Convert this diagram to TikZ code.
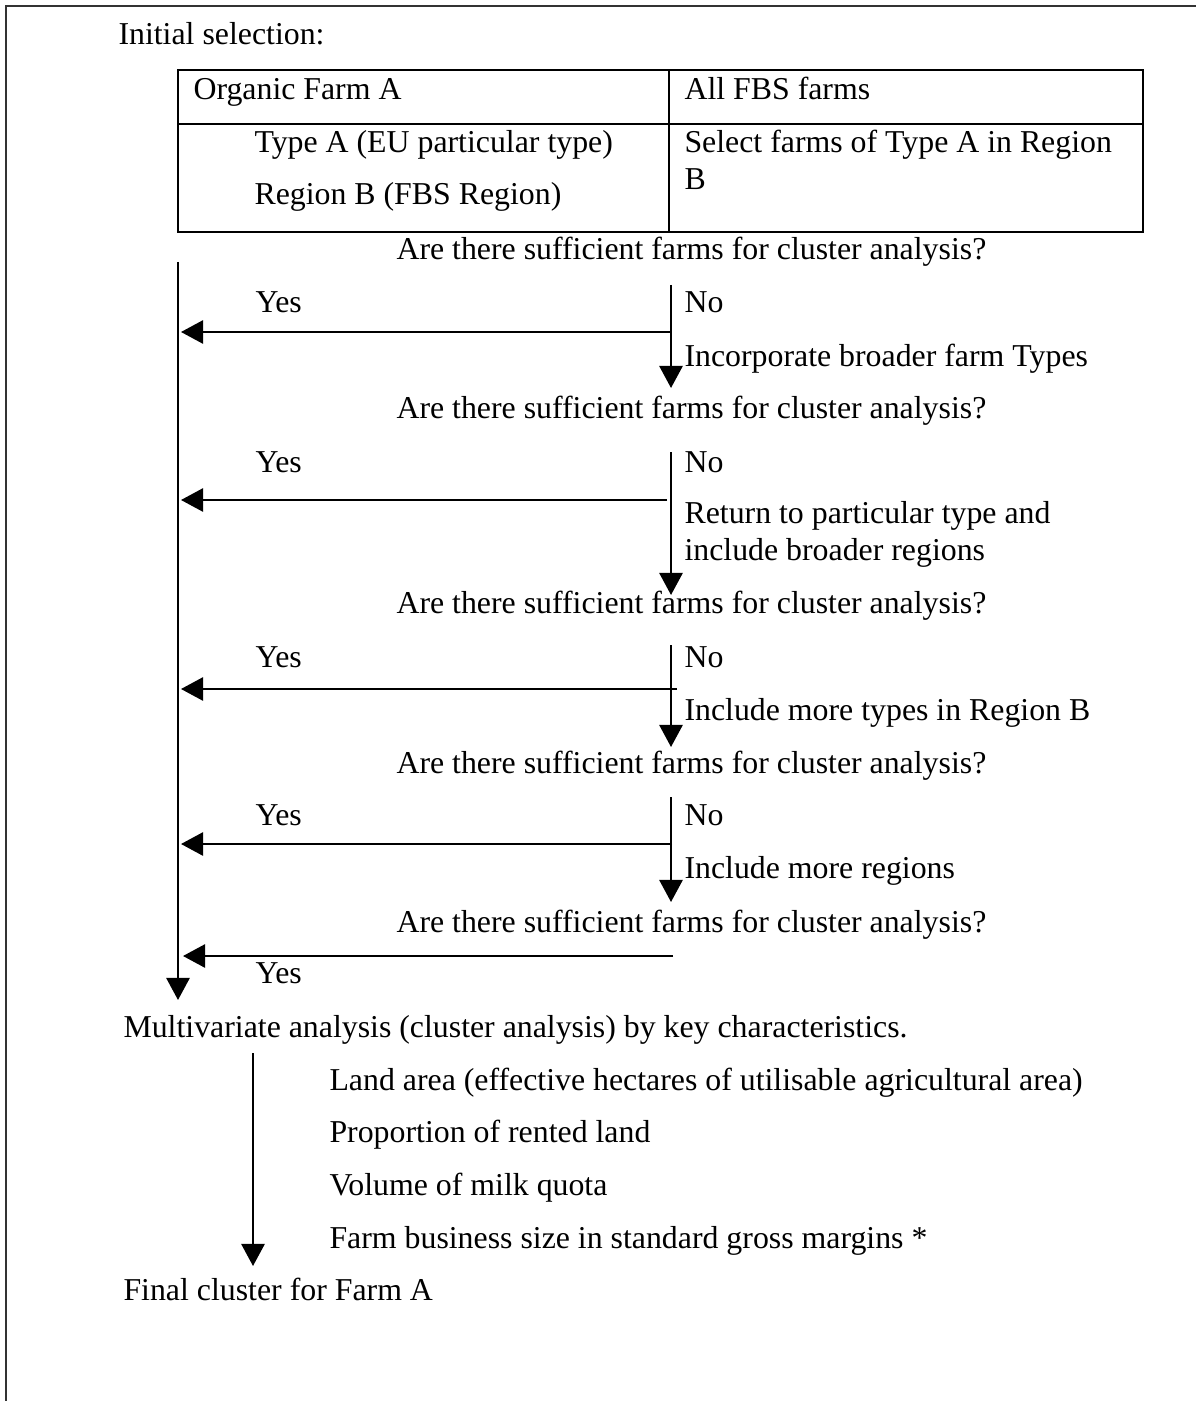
\documentclass[tikz,border=0pt]{standalone}
\usepackage{fontspec}
\setmainfont{Liberation Serif}
\usetikzlibrary{arrows.meta}

\tikzset{
  txt/.style={anchor=base west, inner sep=0pt, font=\fontsize{12}{14.3}\selectfont},
  arr/.style={-{Triangle[length=8.3pt,width=8.7pt]}, line width=0.9pt},
  rule/.style={line width=0.9pt}
}

\begin{document}
\begin{tikzpicture}[x=0.377pt,y=-0.377pt]
  \def\mainx{178}
  \def\brx{671}
  \useasboundingbox (0,0) rectangle (1196,1401);
  % open frame round the figure
  \draw[line width=0.8pt, black!80] (6,1401) -- (6,6) -- (1196,6);

  % initial selection table
  \node[txt] (init) at (118,45) {Initial selection:};
  \draw[rule] (178,70) rectangle (1143,232);
  \draw[rule] (178,124) -- (1143,124);
  \draw[rule] (669,70) -- (669,232);
  \node[txt] (farm) at (193,100) {Organic Farm A};
  \node[txt] (fbs) at (684,100) {All FBS farms};
  \node[txt] (typeA) at (254,153) {Type A (EU particular type)};
  \node[txt] (regB) at (254,205) {Region B (FBS Region)};
  \node[txt] (sel1) at (684,153) {Select farms of Type A in Region};
  \node[txt] (sel2) at (684,190) {B};

  % questions and answers
  \foreach \i/\y in {1/260,2/418,3/613,4/773,5/932} {
      \node[txt] (q\i) at (396,\y) {Are there sufficient farms for cluster analysis?};
  }
  \foreach \i/\y in {1/313,2/472,3/667,4/825} {
      \node[txt] (yes\i) at (255,\y) {Yes};
      \node[txt] (no\i) at (684,\y) {No};
  }
  \node[txt] (yes5) at (255,983) {Yes};

  \node[txt] (step1) at (684,367) {Incorporate broader farm Types};
  \node[txt] (step2a) at (684,523) {Return to particular type and};
  \node[txt] (step2b) at (684,560) {include broader regions};
  \node[txt] (step3) at (684,720) {Include more types in Region B};
  \node[txt] (step4) at (684,878) {Include more regions};

  % branch arrows
  \foreach \i/\t/\b/\h/\s in {1/285/388/332/671, 2/452/595/500/667, 3/645/747/689/677, 4/797/902/844/672} {
      \coordinate (nt\i) at (\brx,\t);
      \coordinate (nb\i) at (\brx,\b);
      \coordinate (ys\i) at (\s,\h);
      \coordinate (ye\i) at (\mainx+3,\h);
      \draw[arr] (nt\i) -- (nb\i);
      \draw[arr] (ys\i) -- (ye\i);
  }
  \coordinate (ys5) at (673,956);
  \coordinate (ye5) at (\mainx+5,956);
  \draw[arr] (ys5) -- (ye5);

  % main line down to the analysis
  \node[txt] (multi) at (123,1037) {Multivariate analysis (cluster analysis) by key characteristics.};
  \coordinate (maintop) at (\mainx,262);
  \coordinate (mainend) at (\mainx,1000);
  \draw[arr] (maintop) -- (mainend);

  % key characteristics
  \node[txt] (land) at (329,1090) {Land area (effective hectares of utilisable agricultural area)};
  \node[txt] (rent) at (329,1142) {Proportion of rented land};
  \node[txt] (milk) at (329,1195) {Volume of milk quota};
  \node[txt] (size) at (329,1248) {Farm business size in standard gross margins *};
  \node[txt] (final) at (123,1300) {Final cluster for Farm A};
  \coordinate (ctop) at (253,1053);
  \coordinate (cend) at (253,1266);
  \draw[arr] (ctop) -- (cend);
\end{tikzpicture}
\end{document}
